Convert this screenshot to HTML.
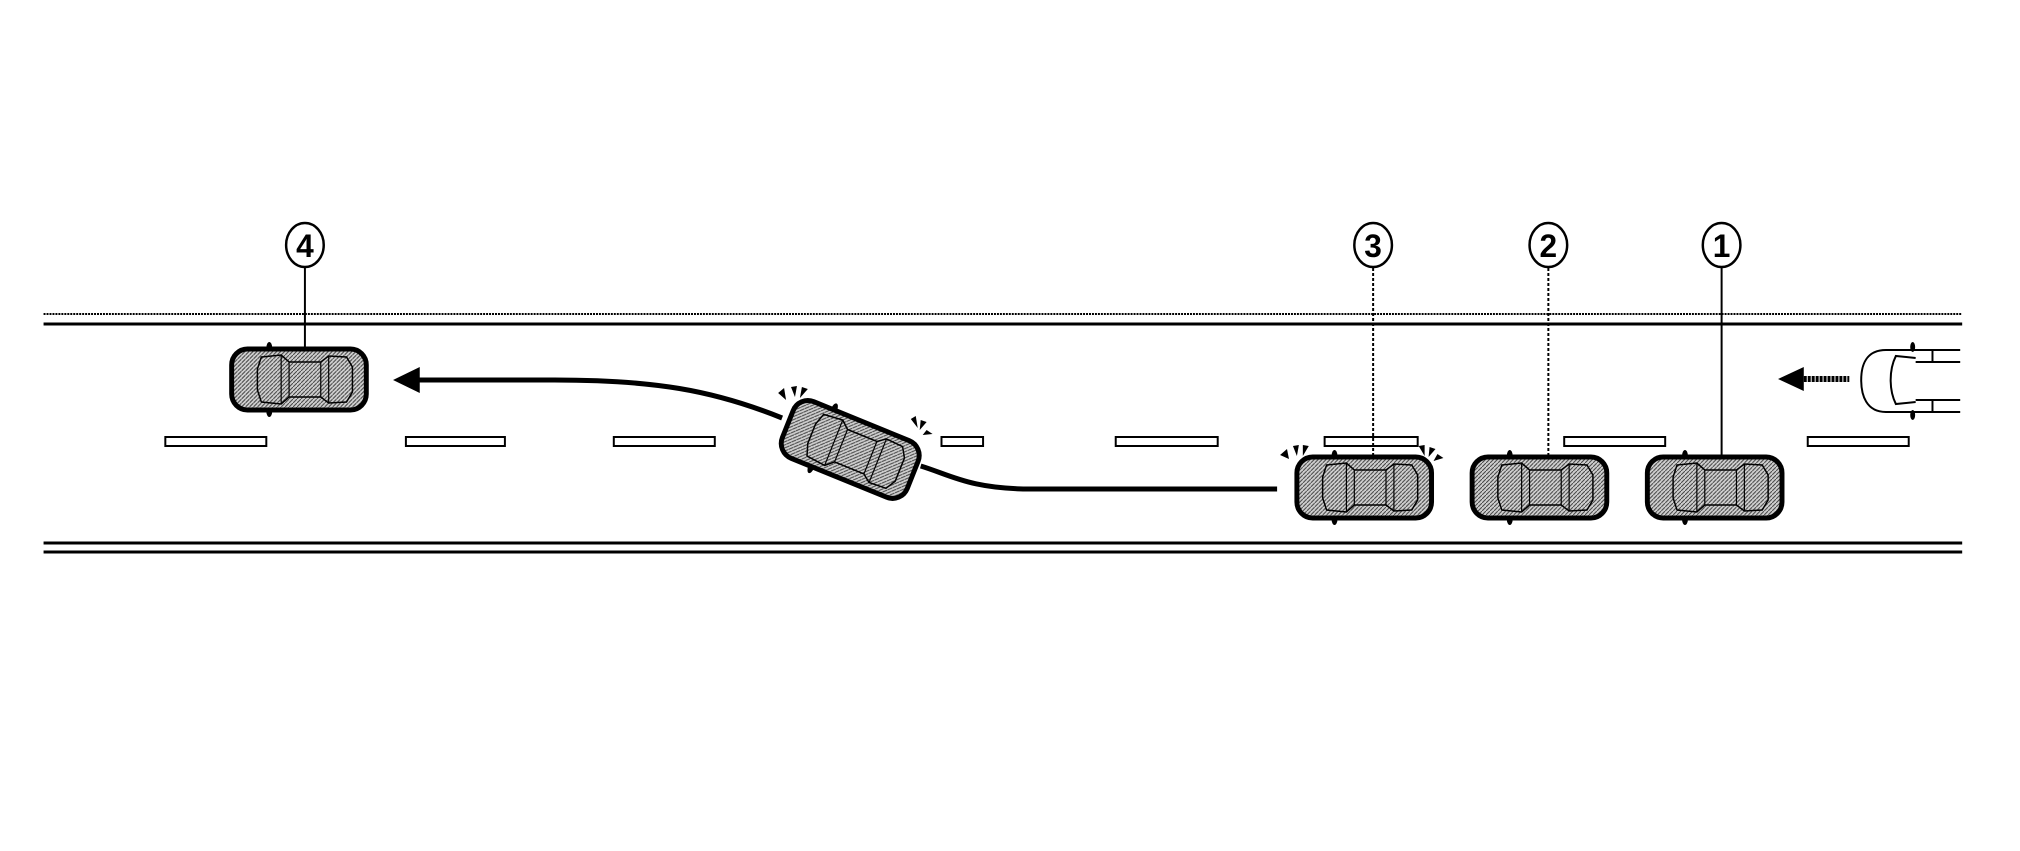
<!DOCTYPE html>
<html><head><meta charset="utf-8"><style>
html,body{margin:0;padding:0;background:#fff;}
svg{display:block;}
text{font-family:"Liberation Sans",sans-serif;font-weight:bold;}
</style></head><body>
<svg width="2020" height="851" viewBox="0 0 2020 851" xmlns="http://www.w3.org/2000/svg">
<defs>
<pattern id="h" width="4" height="4" patternUnits="userSpaceOnUse">
<rect width="4" height="4" fill="#cfcfcf"/>
<path d="M0,4 L4,0" stroke="#444" stroke-width="1"/>
</pattern>
<g id="car">
<ellipse cx="40" cy="1" rx="3" ry="6" fill="#000"/>
<ellipse cx="40" cy="64" rx="3" ry="6" fill="#000"/>
<rect x="2" y="2" width="136" height="61" rx="16" ry="16" fill="url(#h)" stroke="#000" stroke-width="5"/>
<path d="M32,10 L52,8 L60,15 L92,15 L100,9 L118,10 L124,20 L124,45 L118,55 L100,56 L92,50 L60,50 L52,57 L32,55 L28,43 L28,22 Z" fill="none" stroke="#000" stroke-width="1.5"/>
<path d="M52,8 L52,57 M100,9 L100,56 M60,15 L60,50 M92,15 L92,50" fill="none" stroke="#000" stroke-width="1.2"/>
</g>
</defs>
<g transform="scale(0.99 1)">
<!-- road -->
<line x1="44" y1="314" x2="1982" y2="314" stroke="#000" stroke-width="2" stroke-dasharray="2 1"/>
<line x1="44" y1="324" x2="1982" y2="324" stroke="#000" stroke-width="3"/>
<line x1="44" y1="543" x2="1982" y2="543" stroke="#000" stroke-width="3"/>
<line x1="44" y1="552" x2="1982" y2="552" stroke="#000" stroke-width="3"/>

<g fill="#fff" stroke="#000" stroke-width="2">
<rect x="167" y="437" width="102" height="9"/>
<rect x="410" y="437" width="100" height="9"/>
<rect x="620" y="437" width="102" height="9"/>
<rect x="951" y="437" width="42" height="9"/>
<rect x="1127" y="437" width="103" height="9"/>
<rect x="1338" y="437" width="94" height="9"/>
<rect x="1580" y="437" width="102" height="9"/>
<rect x="1826" y="437" width="102" height="9"/>
</g>

<path d="M1290,489 L1041,489 C980,489 960,475 930,466 M790,418 C720,390 660,380 560,380 L418,380" fill="none" stroke="#000" stroke-width="5"/>
<polygon points="397,380 424,367 424,393" fill="#000"/>

<line x1="308" y1="268" x2="308" y2="349" stroke="#000" stroke-width="2"/>
<line x1="1387" y1="268" x2="1387" y2="456" stroke="#000" stroke-width="2" stroke-dasharray="3 2"/>
<line x1="1564" y1="268" x2="1564" y2="456" stroke="#000" stroke-width="2" stroke-dasharray="3 2"/>
<line x1="1739" y1="268" x2="1739" y2="456" stroke="#000" stroke-width="2"/>

<g fill="#fff" stroke="#000" stroke-width="2.5">
<ellipse cx="308" cy="245" rx="19" ry="22"/>
<ellipse cx="1387" cy="245" rx="19" ry="22"/>
<ellipse cx="1564" cy="245" rx="19" ry="22"/>
<ellipse cx="1739" cy="245" rx="19" ry="22"/>
</g>
<g font-size="32" text-anchor="middle">
<text x="308" y="257">4</text>
<text x="1387" y="257">3</text>
<text x="1564" y="257">2</text>
<text x="1739" y="257">1</text>
</g>

<use href="#car" transform="translate(232,347)"/>
<use href="#car" transform="translate(1308,455)"/>
<use href="#car" transform="translate(1485,455)"/>
<use href="#car" transform="translate(1662,455)"/>
<use href="#car" transform="translate(859,449) rotate(22) translate(-70,-32)"/>

<g fill="#000">
<polygon points="1293,455 1300,449 1302,459"/><polygon points="1306,446 1312,445 1310,456"/><polygon points="1316,445 1322,446 1316,456"/>
<polygon points="1433,446 1439,445 1439,456"/><polygon points="1444,447 1450,449 1443,457"/><polygon points="1452,454 1458,458 1448,461"/>
<polygon points="786,393 792,388 794,400"/><polygon points="799,387 805,386 803,397"/><polygon points="810,387 816,389 808,398"/>
<polygon points="920,419 925,416 927,428"/><polygon points="930,420 936,422 929,430"/><polygon points="936,430 942,434 932,435"/>
</g>

<line x1="1822" y1="379" x2="1868" y2="379" stroke="#000" stroke-width="6" stroke-dasharray="3 1"/>
<polygon points="1796,379 1822,367 1822,391" fill="#000"/>
<g fill="#fff" stroke="#000" stroke-width="2">
<path d="M1980,350 L1905,350 C1885,350 1880,365 1880,380 C1880,395 1885,412 1905,412 L1980,412"/>
<path d="M1935,358 L1915,356 C1908,370 1908,390 1915,404 L1935,402"/>
<line x1="1952" y1="350" x2="1952" y2="362"/><line x1="1952" y1="400" x2="1952" y2="412"/>
<line x1="1935" y1="362" x2="1980" y2="362"/><line x1="1935" y1="400" x2="1980" y2="400"/>
</g>
<ellipse cx="1932" cy="347" rx="2.5" ry="5" fill="#000"/>
<ellipse cx="1932" cy="415" rx="2.5" ry="5" fill="#000"/>
</g>
</svg>
</body></html>
